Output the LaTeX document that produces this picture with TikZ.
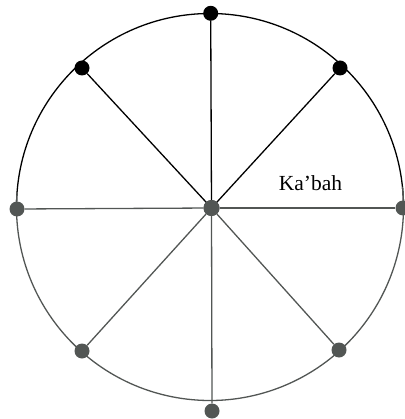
\documentclass[tikz,border=0pt]{standalone}
\usepackage{fontspec}
\setmainfont{Liberation Serif}
\definecolor{lowgray}{RGB}{82,86,84}
\begin{document}
\begin{tikzpicture}[x=1pt,y=-1pt,
  dotb/.style={circle,fill=black,inner sep=0pt,minimum size=15pt},
  dotg/.style={circle,fill=lowgray,inner sep=0pt,minimum size=15pt},
  lineb/.style={draw=black,line width=1.3pt},
  lineg/.style={draw=lowgray,line width=1.3pt}]
\useasboundingbox (0,0) rectangle (404,419);
% circle (y axis points down: angles 0..180 are the lower half)
\coordinate (O) at (210,207);
\draw[lineb] (O) ++(180:193.5) arc[start angle=180,end angle=360,radius=193.5];
\draw[lineg] (O) ++(184:193.5) arc[start angle=184,end angle=-6,radius=193.5];
% nodes
\node[dotg,minimum size=16pt] (c) at (211.5,208) {};
\node[dotb] (t) at (210.7,13.3) {};
\node[dotb] (ul) at (82,68) {};
\node[dotb] (ur) at (340,68) {};
\node[dotg] (l) at (17,209) {};
\node[dotg] (r) at (403,208) {};
\node[dotg] (b) at (212,411) {};
\node[dotg] (ll) at (82,351) {};
\node[dotg] (lr) at (339,350) {};
% spokes
\draw[lineb] (c.center) -- (t);
\draw[lineb] (c.center) -- (ul);
\draw[lineb] (c.center) -- (ur);
\draw[lineg] (c) -- (l);
\draw[lineg] (c) -- (r);
\draw[lineg] (c) -- (b);
\draw[lineg] (c) -- (ll);
\draw[lineg] (c) -- (lr);
\node[dotg,minimum size=16pt] at (c) {};
% label
\node[anchor=base,font=\fontsize{21.5}{24}\selectfont,inner sep=0pt] (k) at (310.5,190.7) {Ka’bah};
\end{tikzpicture}
\end{document}
